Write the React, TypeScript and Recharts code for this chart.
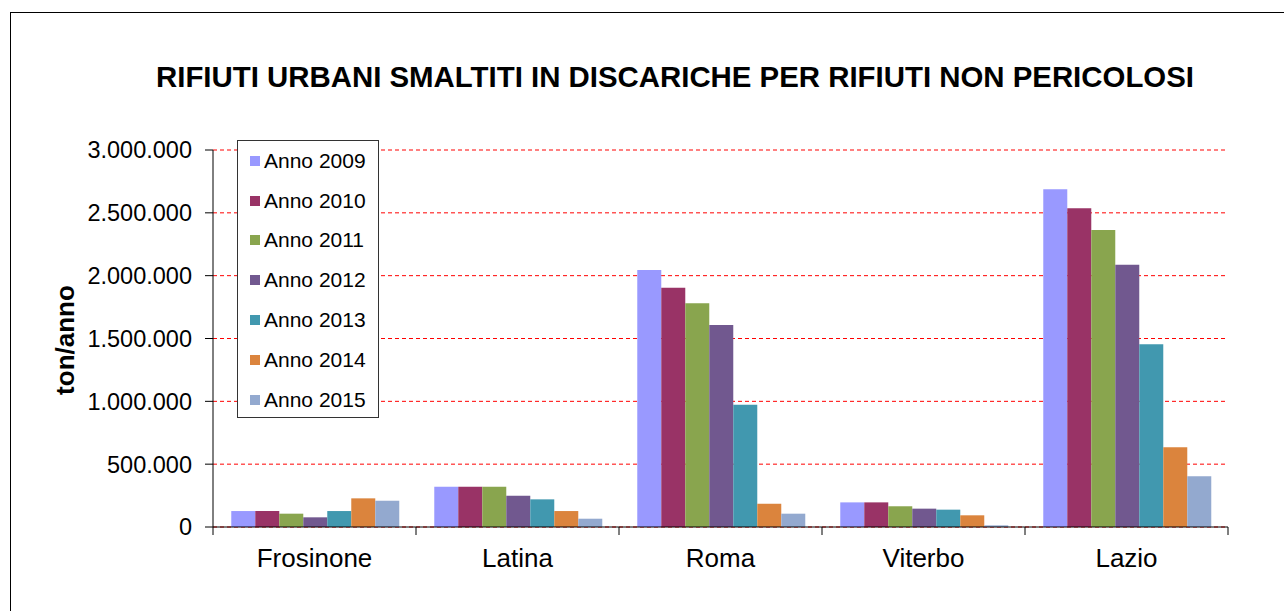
import { BarChart, Bar, XAxis, YAxis, CartesianGrid, Legend } from "recharts";

const province = ["Frosinone", "Latina", "Roma", "Viterbo", "Lazio"];

const anno2009 = [127000, 321000, 2045000, 196000, 2687000];
const anno2010 = [127000, 321000, 1904000, 196000, 2536000];
const anno2011 = [106000, 321000, 1780000, 165000, 2363000];
const anno2012 = [77000, 249000, 1607000, 146000, 2087000];
const anno2013 = [127000, 220000, 973000, 138000, 1454000];
const anno2014 = [228000, 127000, 185000, 93000, 634000];
const anno2015 = [209000, 66000, 106000, 13000, 403000];

const serie = [
  { key: "a2009", name: "Anno 2009", values: anno2009, color: "#9999FF" },
  { key: "a2010", name: "Anno 2010", values: anno2010, color: "#993366" },
  { key: "a2011", name: "Anno 2011", values: anno2011, color: "#89A54E" },
  { key: "a2012", name: "Anno 2012", values: anno2012, color: "#71588F" },
  { key: "a2013", name: "Anno 2013", values: anno2013, color: "#4198AF" },
  { key: "a2014", name: "Anno 2014", values: anno2014, color: "#DB843D" },
  { key: "a2015", name: "Anno 2015", values: anno2015, color: "#93A9CF" },
];

const yTicks = [0, 500000, 1000000, 1500000, 2000000, 2500000, 3000000];

const data = province.map((name, i) => {
  const row: Record<string, string | number> = { name };
  serie.forEach((s) => (row[s.key] = s.values[i]));
  return row;
});

const FONT = "'Liberation Sans', Arial, sans-serif";

// separatore migliaia all'italiana
const formatTon = (v: number) => String(v).replace(/\B(?=(\d{3})+(?!\d))/g, ".");

function CategoryTick(props: any) {
  const { x, y, payload, index } = props;
  const half = payload.offset ?? 101.5;
  const last = index === province.length - 1;
  return (
    <g>
      <line x1={x - half} x2={x - half} y1={y} y2={y + 8} stroke="#000" />
      {last && <line x1={x + half} x2={x + half} y1={y} y2={y + 8} stroke="#000" />}
      <text x={x} y={y + 40} textAnchor="middle" fontSize={26} fill="#000" fontFamily={FONT}>
        {payload.value}
      </text>
    </g>
  );
}

function LegendBox(props: any) {
  const items = props.payload || [];
  return (
    <div
      style={{
        width: 140,
        height: 276,
        border: "1.5px solid #333",
        background: "#fff",
        fontFamily: FONT,
        fontSize: 21,
        color: "#000",
      }}
    >
      {items.map((it: any) => (
        <div key={it.value} style={{ height: 39.8, display: "flex", alignItems: "center" }}>
          <span style={{ width: 10, height: 10, background: it.color, marginLeft: 12, marginRight: 4 }} />
          <span>{it.value}</span>
        </div>
      ))}
    </div>
  );
}

export default function App() {
  return (
    <div style={{ position: "absolute", left: 0, top: 0, width: 1284, height: 611, overflow: "hidden", background: "#fff" }}>
      <div
        style={{
          position: "absolute",
          left: 10,
          top: 12,
          width: 1300,
          height: 700,
          border: "1.5px solid #000",
        }}
      />
      <div
        style={{
          position: "absolute",
          left: 75,
          top: 61,
          width: 1200,
          textAlign: "center",
          fontFamily: FONT,
          fontWeight: "bold",
          fontSize: 29.4,
          lineHeight: "32px",
          whiteSpace: "nowrap",
          color: "#000",
        }}
      >
        RIFIUTI URBANI SMALTITI IN DISCARICHE PER RIFIUTI NON PERICOLOSI
      </div>
      <div
        style={{
          position: "absolute",
          left: 65,
          top: 340,
          transform: "translate(-50%, -50%) rotate(-90deg)",
          fontFamily: FONT,
          fontWeight: "bold",
          fontSize: 26,
          whiteSpace: "nowrap",
          color: "#000",
        }}
      >
        ton/anno
      </div>
      <div style={{ position: "absolute", left: 0, top: 0 }}>
        <BarChart
          width={1284}
          height={611}
          data={data}
          margin={{ top: 150, right: 56, bottom: 0, left: 13 }}
          barCategoryGap="9%"
          barGap={0}
        >
          <CartesianGrid vertical={false} stroke="#ff0000" strokeDasharray="4 3" />
          <XAxis
            dataKey="name"
            height={84}
            tickSize={0}
            tickMargin={0}
            axisLine={{ stroke: "#000" }}
            tick={<CategoryTick />}
            interval={0}
          />
          <YAxis
            width={200}
            domain={[0, 3000000]}
            ticks={yTicks}
            tickFormatter={formatTon}
            tickSize={8}
            tickMargin={13}
            axisLine={{ stroke: "#000" }}
            tickLine={{ stroke: "#000" }}
            tick={{ fontSize: 23.5, fill: "#000", fontFamily: FONT }}
          />
          <Legend
            layout="vertical"
            align="center"
            verticalAlign="middle"
            wrapperStyle={{ left: 237, top: 140, width: 143 }}
            content={<LegendBox />}
          />
          {serie.map((s) => (
            <Bar key={s.key} dataKey={s.key} name={s.name} fill={s.color} isAnimationActive={false} />
          ))}
        </BarChart>
      </div>
    </div>
  );
}
